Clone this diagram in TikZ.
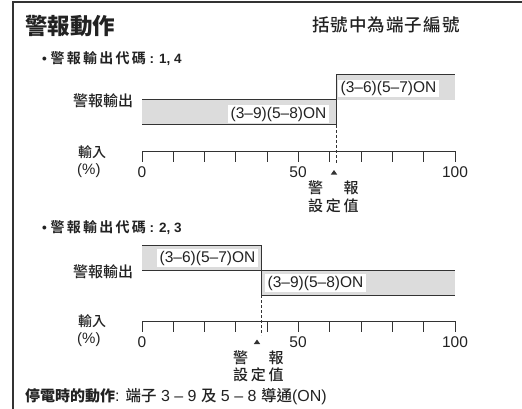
\documentclass[tikz,border=0pt]{standalone}
\usepackage{fontspec}
\setmainfont{Liberation Sans}
\newfontfamily\cjk{Noto Sans CJK TC Medium}
\newfontfamily\cjkheavy{Noto Sans CJK TC Black}
\definecolor{ink}{HTML}{222222}
\definecolor{linec}{HTML}{333333}
\definecolor{fillg}{HTML}{DCDCDC}
\newcommand\fs[1]{\fontsize{#1}{#1}\selectfont}
\newcommand\cjkls[1]{\cjk\addfontfeatures{LetterSpace=#1}}
\newcommand\cjkhls[1]{\cjkheavy\addfontfeatures{LetterSpace=#1}}
\begin{document}
\begin{tikzpicture}[x=1pt,y=-1pt,
  every node/.style={inner sep=0pt,text=ink},
  ln/.style={draw=linec,line width=1pt},
  frameln/.style={draw=linec,line width=1.2pt},
  dashln/.style={draw=linec,line width=0.9pt,dash pattern=on 3pt off 2pt},
  onlbl/.style={fill=white,inner xsep=2.5pt,inner ysep=1.5pt,anchor=west,font=\fs{15.5}},
  num/.style={font=\fs{15.5}},
  cjklbl/.style={anchor=west},
]
\useasboundingbox (0,0) rectangle (522,409);
% frame
\draw[frameln] (13,409) -- (13,2) -- (522,2);
% header
\node[cjklbl,font={\cjkheavy\fs{22.5}}] (title) at (25,26) {警報動作};
\node[cjklbl,font={\cjkls{6}\fs{17.5}}] (note) at (312,25) {括號中為端子編號};

% ===== chart 1 =====
\node[cjklbl,font={\bfseries\fs{13.5}}] (code14) at (42,59) {• {\cjkhls{16}\fs{14}警報輸出代碼} : 1, 4};
\node[cjklbl,font={\cjk\fs{15}}] (out1) at (73,100.5) {警報輸出};
\fill[fillg] (142,100) rectangle (336,125);
\fill[fillg] (336,75) rectangle (455,100);
\draw[ln] (142,100) -- (336,100);
\draw[ln] (142,125) -- (336,125);
\draw[ln] (336,75) -- (336,125);
\draw[ln] (336,75) -- (455,75);
\node[onlbl] (lo1) at (228,114) {(3–9)(5–8)ON};
\node[onlbl] (hi1) at (338,88.5) {(3–6)(5–7)ON};
\draw[dashln] (336,125) -- (336,164);
% axis 1
\draw[ln] (142,151.5) -- (455,151.5);
\foreach \i in {0,...,10} \draw[ln] ({142+31.3*\i},151.5) -- ++(0,10.5);
\node[cjklbl,font={\cjk\fs{14}}] (in1) at (78,152) {輸入};
\node[cjklbl,font=\fs{15}] (pct1) at (77,170.5) {(\%)};
\node[num] (z1) at (142,172.5) {0};
\node[num] (f1) at (298,172.5) {50};
\node[num] (h1) at (455,172.5) {100};
\fill[linec] (334,170) -- (337.2,174.5) -- (330.8,174.5) -- cycle;
\node[anchor=west,font={\cjkls{18}\fs{15}}] (sa1) at (308,188) {警　報};
\node[anchor=west,font={\cjkls{18}\fs{15}}] (sb1) at (308,206) {設定值};

% ===== chart 2 =====
\node[cjklbl,font={\bfseries\fs{13.5}}] (code23) at (42,228) {• {\cjkhls{16}\fs{14}警報輸出代碼} : 2, 3};
\node[cjklbl,font={\cjk\fs{15}}] (out2) at (73,271.5) {警報輸出};
\fill[fillg] (142,245) rectangle (261,270);
\fill[fillg] (261,270) rectangle (455,295);
\draw[ln] (142,245) -- (261,245);
\draw[ln] (142,270) -- (455,270);
\draw[ln] (261,245) -- (261,295);
\draw[ln] (261,295) -- (455,295);
\node[onlbl] (hi2) at (157,258) {(3–6)(5–7)ON};
\node[onlbl] (lo2) at (265,283) {(3–9)(5–8)ON};
\draw[dashln] (261,295) -- (261,335);
% axis 2
\draw[ln] (142,321) -- (455,321);
\foreach \i in {0,...,10} \draw[ln] ({142+31.3*\i},321) -- ++(0,10.5);
\node[cjklbl,font={\cjk\fs{14}}] (in2) at (78,321) {輸入};
\node[cjklbl,font=\fs{15}] (pct2) at (77,340) {(\%)};
\node[num] (z2) at (142,342.5) {0};
\node[num] (f2) at (298,342.5) {50};
\node[num] (h2) at (455,342.5) {100};
\fill[linec] (257,339.5) -- (260.2,344) -- (253.8,344) -- cycle;
\node[anchor=west,font={\cjkls{18}\fs{15}}] (sa2) at (233,358) {警　報};
\node[anchor=west,font={\cjkls{18}\fs{15}}] (sb2) at (233,375) {設定值};

% footer
\node[cjklbl,font=\fs{16}] (foot) at (25,397) {{\cjkheavy\fs{15}停電時的動作}: {\cjk\fs{15.5}端子} 3 – 9 {\cjk\fs{15.5}及} 5 – 8 {\cjk\fs{15.5}導通}(ON)};
\end{tikzpicture}
\end{document}
